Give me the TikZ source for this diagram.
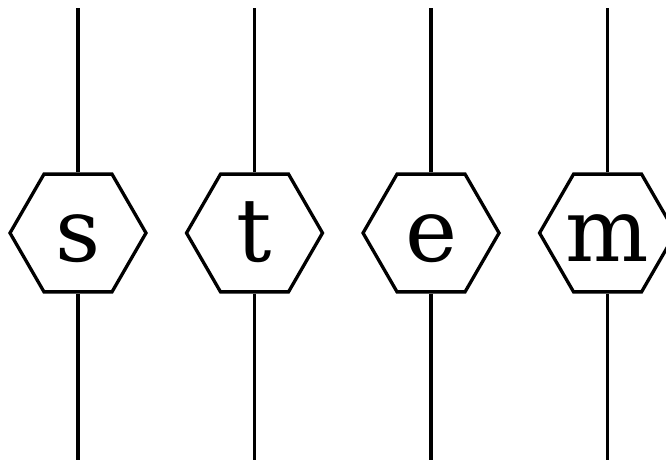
\documentclass[tikz,border=0pt]{standalone}
\usepackage{fontspec}
\newfontfamily\hexfont{DejaVu Serif}
\usetikzlibrary{positioning,shapes.geometric}

\begin{document}
\begin{tikzpicture}[
  x=1pt,y=1pt,
  node distance=36.7pt,
  letter/.style={regular polygon,regular polygon sides=6,draw,line width=3.3pt,
    minimum size=136pt,inner sep=0pt,text height=58pt,text depth=0pt,
    font=\hexfont\fontsize{88}{88}\selectfont,
    execute at begin node={\hbox to 0pt\bgroup\hss},
    execute at end node={\hss\egroup}},
  wire/.style={draw,line width=3.6pt}
]
  \useasboundingbox (0,0) rectangle (666,460);
  \coordinate (top) at (0,452);
  \coordinate (bot) at (0,0);

  \node[letter] (s) at (78,227) {s};
  \node[letter,right=of s] (t) {t};
  \node[letter,right=of t] (e) {e};
  \node[letter,right=of e] (m) {m};

  \draw[wire] (s) -- (s |- top);
  \draw[wire] (s) -- (s |- bot);
  \draw[wire] (t) -- (t |- top);
  \draw[wire] (t) -- (t |- bot);
  \draw[wire] (e) -- (e |- top);
  \draw[wire] (e) -- (e |- bot);
  \draw[wire] (m) -- (m |- top);
  \draw[wire] (m) -- (m |- bot);
\end{tikzpicture}
\end{document}
